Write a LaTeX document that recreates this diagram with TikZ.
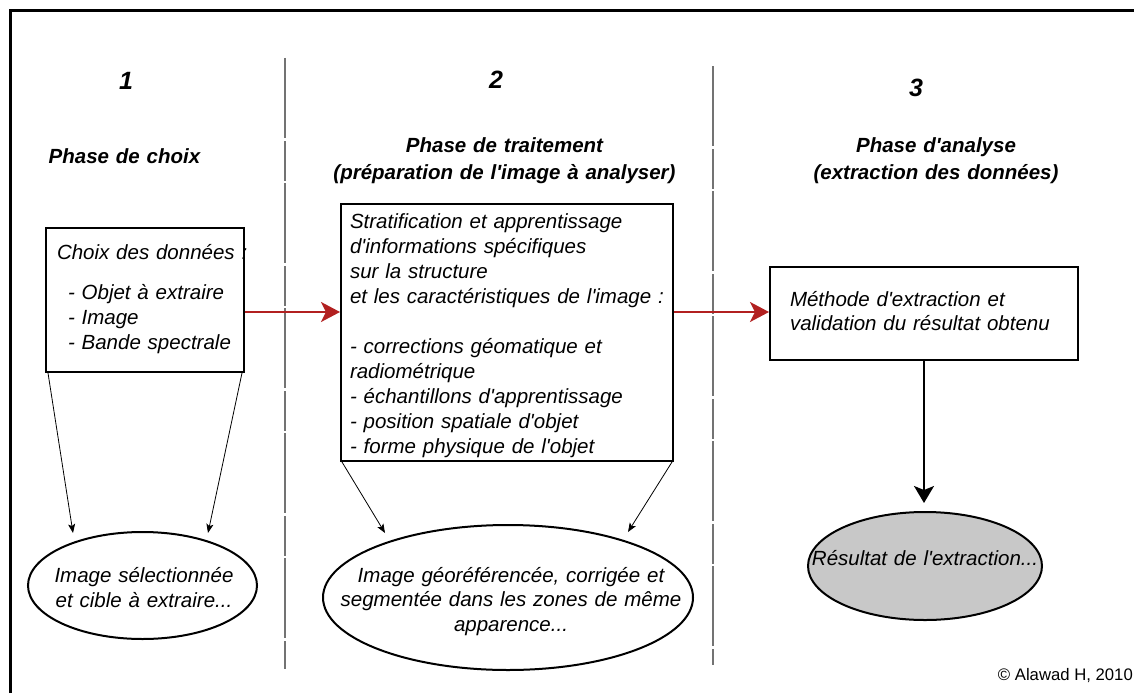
\documentclass[tikz,border=0pt]{standalone}
\usepackage{fontspec}
\setmainfont{Liberation Sans}[Ligatures=TeXOff]
\usetikzlibrary{arrows.meta,shapes.geometric,calc}
\definecolor{arrred}{RGB}{178,32,32}
\definecolor{resgray}{RGB}{200,200,200}
\definecolor{divgray}{RGB}{115,115,115}
\begin{document}
\begin{tikzpicture}[x=1pt,y=-1pt,
  txt/.style={font=\fontsize{20.5}{25}\selectfont\itshape, inner sep=0pt, align=center, anchor=base},
  ttl/.style={font=\fontsize{20.5}{27}\selectfont\bfseries\itshape, inner sep=0pt, align=center, text width=400pt, anchor=base},
  num/.style={font=\fontsize{25}{28}\selectfont\bfseries\itshape, inner sep=0pt, anchor=base},
  boxnode/.style={draw=black, line width=2pt, anchor=north west, inner ysep=0pt, align=left, font=\fontsize{20.5}{25}\selectfont\itshape},
  ell/.style={ellipse, draw=black, line width=2pt, inner sep=0pt},
  redarrow/.style={draw=arrred, line width=2pt, -{Stealth[length=19pt,width=20pt,inset=5pt]}},
  thinarrow/.style={draw=black, line width=0.8pt, -{Stealth[length=9pt,width=7pt,inset=2pt]}},
  blackarrow/.style={draw=black, line width=2pt, -{Stealth[length=17pt,width=20pt,inset=4pt]}},
  divider/.style={draw=divgray, line width=1.8pt, dash pattern=on 80pt off 3pt on 40pt off 2pt}
]
\fill[white] (0,0) rectangle (1134,693);
\useasboundingbox (0,0) rectangle (1134,693);

% frame
\draw[line width=3.8pt] (10.5,693) -- (10.5,10.5) -- (1134,10.5);

% dividers
\draw[divider] (285,58) -- (285,669);
\draw[divider] (713,66) -- (713,665);

% numbers and titles
\node[num] (n1) at (126,89.5) {1};
\node[num] (n2) at (496,88.5) {2};
\node[num] (n3) at (916,96.5) {3};
\node[ttl] (p1) at (124.5,163) {Phase de choix};
\node[ttl] (p2) at (504.5,152) {Phase de traitement\\(préparation de l'image à analyser)};
\node[ttl] (p3) at (936,152) {Phase d'analyse\\(extraction des données)};

% boxes
\node[boxnode, inner xsep=0pt, text width=198pt, text height=31pt, text depth=113pt] (b1) at (45,227)
  {\mbox{\hspace*{11pt}Choix des données :}\\[15pt]
   \mbox{\hspace*{22pt}- Objet à extraire}\\
   \mbox{\hspace*{22pt}- Image}\\
   \mbox{\hspace*{22pt}- Bande spectrale}};
\node[boxnode, inner xsep=9pt, text width=314pt, text height=24pt, text depth=233pt] (b2) at (340,203)
  {\mbox{Stratification et apprentissage}\\
   \mbox{d'informations spécifiques}\\
   \mbox{sur la structure}\\
   \mbox{et les caractéristiques de l'image :}\\[25pt]
   \mbox{- corrections géomatique et}\\
   \mbox{radiométrique}\\
   \mbox{- échantillons d'apprentissage}\\
   \mbox{- position spatiale d'objet}\\
   \mbox{- forme physique de l'objet}};
\node[boxnode, inner xsep=20pt, text width=268pt, text height=39pt, text depth=54pt,
      font=\fontsize{20.5}{24}\selectfont\itshape] (b3) at (769,266)
  {\mbox{Méthode d'extraction et}\\
   \mbox{validation du résultat obtenu}};

% ellipses
\node[ell, minimum width=229pt, minimum height=107pt] (e1) at (142.5,585.5) {};
\node[ell, minimum width=370pt, minimum height=145pt] (e2) at (508,597.5) {};
\node[ell, fill=resgray, minimum width=234pt, minimum height=108pt] (e3) at (925,566) {};

\node[txt, text width=228pt] (t1) at (144,582) {Image sélectionnée\\et cible à extraire...};
\node[txt, text width=368pt, font=\fontsize{20.5}{24.5}\selectfont\itshape] (t2) at (511,582)
  {Image géoréférencée, corrigée et\\segmentée dans les zones de même\\apparence...};
\node[txt, text width=232pt] (t3) at (925,565) {Résultat de l'extraction...};

% copyright
\node[font=\fontsize{16.7}{20}\selectfont, anchor=base east, inner sep=0pt] (cp) at (1133,680) {© Alawad H, 2010};

% connectors
\coordinate (ry) at (0,312);
\draw[redarrow] (b1.east |- ry) -- (b2.west |- ry);
\draw[redarrow] (b2.east |- ry) -- (b3.west |- ry);

\coordinate (a1e) at (73,533);
\coordinate (a2e) at (208,533);
\coordinate (a3e) at (385,533);
\coordinate (a4e) at (628,532);
\draw[thinarrow] ($(b1.south west)+(3,0)$) -- (a1e);
\draw[thinarrow] ($(b1.south east)+(-3,0)$) -- (a2e);
\draw[thinarrow] ($(b2.south west)+(2,0)$) -- (a3e);
\draw[thinarrow] ($(b2.south east)+(-2,0)$) -- (a4e);

\draw[blackarrow, shorten >=8pt] (b3.south) -- (b3.south |- e3.north);
\end{tikzpicture}
\end{document}
